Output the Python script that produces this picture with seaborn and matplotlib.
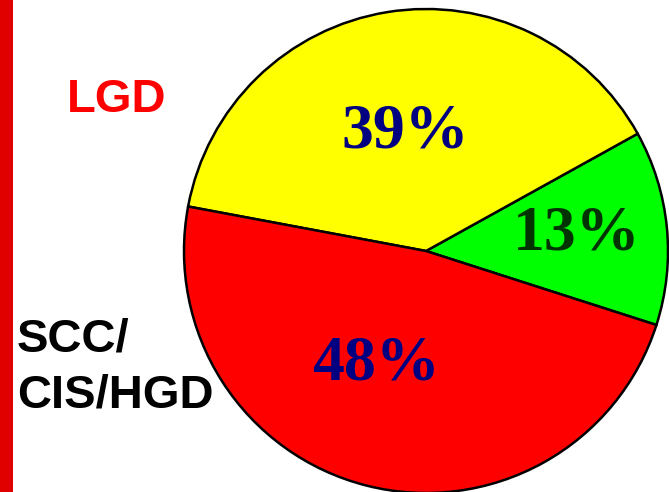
import matplotlib
matplotlib.use("Agg")
import matplotlib.pyplot as plt
import seaborn as sns

sns.set_style("white")

# Share of lesion grades (percent), counter-clockwise from the right side
categories = ["HGD_low", "LGD", "SCC/CIS/HGD"]
shares = [13, 39, 48]
slice_labels = ["13%", "39%", "48%"]
slice_colors = ["#00FF00", "#FFFF00", "#FF0000"]
label_colors = ["#003300", "#000080", "#000080"]

W, H = 669, 492
fig = plt.figure(figsize=(W / 100, H / 100), dpi=100)
ax = fig.add_axes([0, 0, 1, 1])

cx, cy, r = 426, H - 251, 242
wedges, _ = ax.pie(
    shares,
    colors=slice_colors,
    startangle=-17.8,
    counterclock=True,
    center=(cx, cy),
    radius=r,
    frame=True,
    wedgeprops=dict(edgecolor="black", linewidth=1.8),
)
ax.set_xlim(0, W)
ax.set_ylim(0, H)
ax.set_aspect("equal")
ax.axis("off")

# percentage labels inside the slices
label_pos = [(577, 234), (405, 132), (376, 365)]
for txt, col, (x, y) in zip(slice_labels, label_colors, label_pos):
    ax.text(x, H - y, txt, ha="center", va="center", color=col,
            fontsize=46, fontweight="bold", family="Liberation Serif")

# side labels
side_font = dict(fontsize=34, fontweight="bold", family="Liberation Sans")
ax.text(117, H - 112, "LGD", ha="center", va="baseline", color="#FF0000",
        **side_font)
ax.text(17, H - 351, "SCC/", ha="left", va="baseline", color="black",
        **side_font)
ax.text(17, H - 408, "CIS/HGD", ha="left", va="baseline", color="black",
        **side_font)

# accent bar on the left edge
ax.add_patch(plt.Rectangle((0, 0), 13, H, color="#E00000", lw=0))

fig.savefig("out.png", dpi=100)
